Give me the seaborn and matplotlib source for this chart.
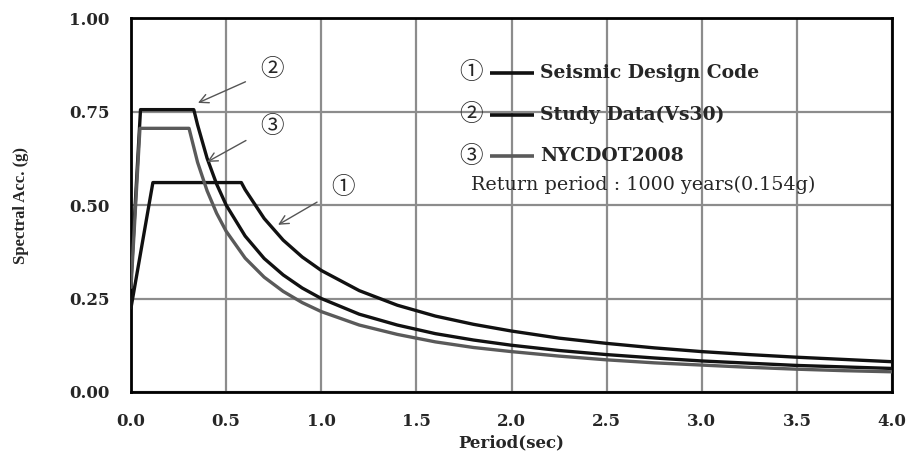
import matplotlib
matplotlib.use("Agg")
import matplotlib.pyplot as plt
import seaborn as sns
import pandas as pd

# ---- data ----
period_code = [0.0, 0.115, 0.58, 0.6, 0.7, 0.8, 0.9, 1.0, 1.2, 1.4, 1.6, 1.8, 2.0,
               2.25, 2.5, 2.75, 3.0, 3.25, 3.5, 3.75, 4.0]
sa_code = [0.225, 0.56, 0.56, 0.541, 0.464, 0.406, 0.361, 0.325, 0.271, 0.232, 0.203,
           0.181, 0.163, 0.144, 0.130, 0.118, 0.108, 0.100, 0.093, 0.087, 0.081]

period_study = [0.0, 0.05, 0.33, 0.35, 0.4, 0.45, 0.5, 0.6, 0.7, 0.8, 0.9, 1.0, 1.2,
                1.4, 1.6, 1.8, 2.0, 2.25, 2.5, 2.75, 3.0, 3.25, 3.5, 3.75, 4.0]
sa_study = [0.30, 0.755, 0.755, 0.714, 0.625, 0.556, 0.500, 0.417, 0.357, 0.313, 0.278,
            0.250, 0.208, 0.179, 0.156, 0.139, 0.125, 0.111, 0.100, 0.091, 0.083, 0.077,
            0.071, 0.067, 0.063]

period_nyc = [0.0, 0.047, 0.305, 0.35, 0.4, 0.45, 0.5, 0.6, 0.7, 0.8, 0.9, 1.0, 1.2,
              1.4, 1.6, 1.8, 2.0, 2.25, 2.5, 2.75, 3.0, 3.25, 3.5, 3.75, 4.0]
sa_nyc = [0.28, 0.705, 0.705, 0.614, 0.538, 0.478, 0.430, 0.358, 0.307, 0.269, 0.239,
          0.215, 0.179, 0.154, 0.134, 0.119, 0.108, 0.096, 0.086, 0.078, 0.072, 0.066,
          0.061, 0.057, 0.054]

series_names = ["Seismic Design Code", "Study Data(Vs30)", "NYCDOT2008"]
series_marks = ["\u2460", "\u2461", "\u2462"]
series_colors = ["#111111", "#111111", "#5a5a5a"]
x_ticks = [0.0, 0.5, 1.0, 1.5, 2.0, 2.5, 3.0, 3.5, 4.0]
y_ticks = [0.00, 0.25, 0.50, 0.75, 1.00]
note_text = "Return period : 1000 years(0.154g)"

# ---- style ----
sns.set_style("white")
plt.rcParams["font.family"] = ["DejaVu Serif", "Liberation Serif"]

fig = plt.figure(figsize=(9.11, 4.57), dpi=100)
ax = fig.add_axes([131 / 911, 1 - 392 / 457, 761 / 911, 374 / 457])

wide = ["DejaVu Serif", "Liberation Serif"]
times = ["Liberation Serif", "DejaVu Serif"]
circ = ["Noto Sans CJK JP", "DejaVu Sans"]

datasets = [(period_code, sa_code), (period_study, sa_study), (period_nyc, sa_nyc)]
for (px, py), name, col in zip(datasets, series_names, series_colors):
    df = pd.DataFrame({"Period": px, "Sa": py})
    sns.lineplot(data=df, x="Period", y="Sa", ax=ax, color=col, linewidth=2.4,
                 sort=False, estimator=None, zorder=3)

ax.set_xlim(0, 4)
ax.set_ylim(0, 1)
ax.set_xticks(x_ticks)
ax.set_yticks(y_ticks)
ax.set_xticklabels([f"{v:.1f}" for v in x_ticks], fontsize=12, fontweight="bold", family=wide)
ax.set_yticklabels([f"{v:.2f}" for v in y_ticks], fontsize=12, fontweight="bold", family=wide)
ax.set_xticks([i / 10 for i in range(41)], minor=True)
ax.tick_params(axis="x", which="major", direction="in", length=5, width=1.5, pad=15, color="black")
ax.tick_params(axis="x", which="minor", direction="in", length=5, width=1.5, color="black")
ax.tick_params(axis="y", which="major", direction="in", length=6, width=1.5, pad=15.5, color="black")
ax.grid(True, which="major", color="#8c8c8c", linewidth=1.6, zorder=0)
ax.set_axisbelow(True)
for s in ax.spines.values():
    s.set_color("black")
    s.set_linewidth(2)

ax.set_xlabel("Period(sec)", fontsize=12, fontweight="bold", family=wide, labelpad=3)
ax.set_ylabel("Spectral Acc. (g)", fontsize=12, fontweight="bold", family=times)
ax.yaxis.set_label_coords(-(131 - 29) / 761, 0.5)

# ---- legend built as text ----
leg_y = [0.853, 0.741, 0.631]
for yv, mark, name, col in zip(leg_y, series_marks, series_names, series_colors):
    ax.text(1.79, yv, mark, fontsize=17, family=circ, ha="center", va="center", zorder=5)
    ax.plot([1.887, 2.12], [yv, yv], color=col, linewidth=2.6, zorder=5,
            solid_capstyle="butt")
    ax.text(2.15, yv, name, fontsize=13.5, fontweight="bold", family=wide,
            ha="left", va="center", zorder=5)
ax.text(1.787, 0.553, note_text, fontsize=13.8, family=wide, ha="left", va="center", zorder=5)

# ---- callouts ----
callouts = [("\u2461", (0.741, 0.861), (0.352, 0.773)),
            ("\u2462", (0.741, 0.711), (0.40, 0.615)),
            ("\u2460", (1.114, 0.548), (0.773, 0.447))]
for mark, lab, tip in callouts:
    ax.annotate(mark, xy=tip, xytext=lab, fontsize=17, family=circ,
                ha="center", va="center", zorder=6,
                arrowprops=dict(arrowstyle="->", color="#555555", lw=1.0,
                                shrinkA=9, shrinkB=0, mutation_scale=16))

fig.savefig("out.png", dpi=100)
